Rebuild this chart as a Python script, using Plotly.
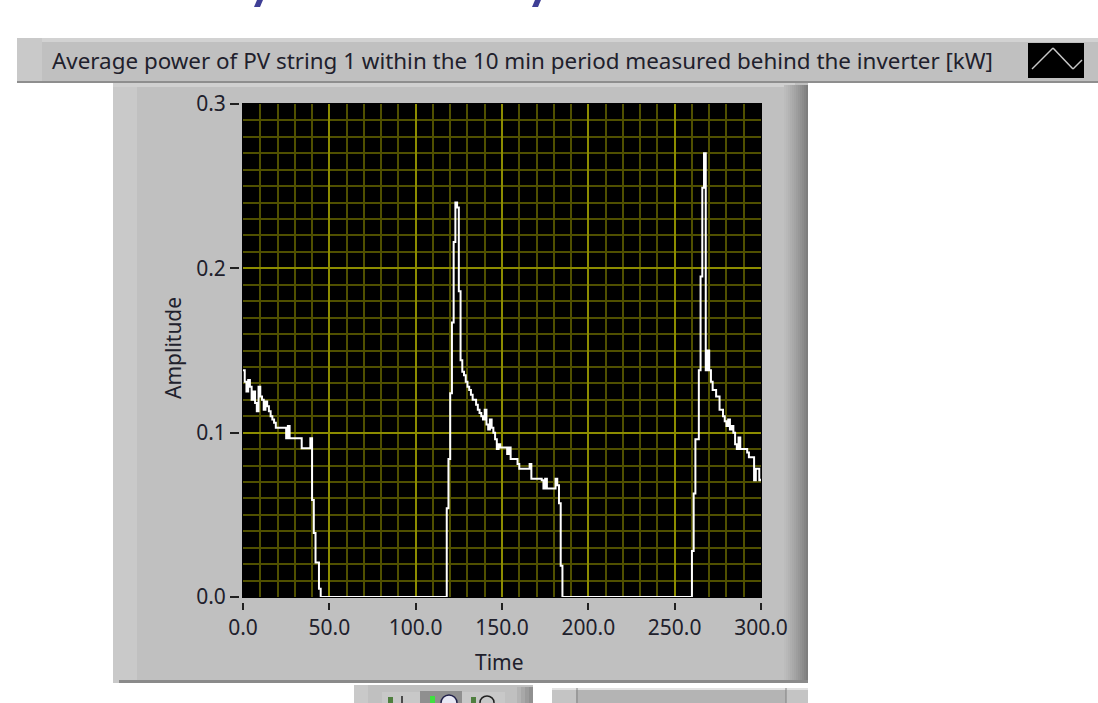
import plotly.graph_objects as go

W, H = 1098, 703
FONT = "Noto Sans"
TEXT = "#20202c"

# ---- data (10-min samples) ----
seg1 = [.138,.131,.125,.132,.128,.120,.125,.118,.113,.128,.122,.120,.114,.119,.116,.113,.110,.108,.106,.103,
        .103,.103,.103,.103,.103,.0966,.104,.0966,.0966,.0966,.0966,.0966,.0966,.0966,.0905,.0905,.0905,.0905,.0905,.0966,
        .059,.039,.021,.021,.005]
zero1 = [0.0] * 73
seg2 = [.054,.084,.124,.167,.216,.240,.237,.186,.144,.137,.135,.131,.128,.126,.123,.120,.120,.117,.114,.112,
        .110,.108,.114,.105,.102,.108,.103,.100,.096,.090,.093,.091,.091,.091,.091,.087,.091,.084,.084,.084,
        .084,.081,.078,.078,.078,.078,.078,.078,.081,.072,.072,.072,.072,.072,.072,.071,.066,.072,.066,.066,
        .066,.066,.066,.072,.068,.057,.019,.006][:67]
zero2 = [0.0] * 75
seg3 = [.028,.063,.096,.096,.138,.195,.249,.270,.138,.150,.138,.131,.126,.126,.122,.122,.114,.114,.110,.107,
        .104,.108,.102,.104,.100,.093,.090,.097,.090,.090,.090,.090,.088,.085,.085,.085,.071,.078,.078,.071,.072]
power = seg1 + zero1 + seg2 + zero2 + seg3
time = list(range(len(power)))

x_ticks = [0, 50, 100, 150, 200, 250, 300]
x_labels = ["0.0", "50.0", "100.0", "150.0", "200.0", "250.0", "300.0"]
y_ticks = [0, 0.1, 0.2, 0.3]
y_labels = ["0.0", "0.1", "0.2", "0.3"]
header = "Average power of PV string 1 within the 10 min period measured behind the inverter [kW]"

def px(x): return x / W
def py(y): return 1 - y / H

shapes = []
def rect(x0, y0, x1, y1, color):
    shapes.append(dict(type="rect", xref="paper", yref="paper", x0=px(x0), x1=px(x1),
                       y0=py(y1), y1=py(y0), fillcolor=color, line=dict(width=0), layer="below"))
def seg(x0, y0, x1, y1, color, width=1.5):
    shapes.append(dict(type="line", xref="paper", yref="paper", x0=px(x0), x1=px(x1),
                       y0=py(y0), y1=py(y1), line=dict(color=color, width=width), layer="below"))
def poly(points, color):
    d = "M " + " L ".join(f"{px(a):.5f},{py(b):.5f}" for a, b in points) + " Z"
    shapes.append(dict(type="path", xref="paper", yref="paper", path=d, fillcolor=color,
                       line=dict(width=0), layer="below"))

# cropped title descenders
poly([(254, 7), (260, 7), (263, 0), (257, 0)], "#3f3f96")
poly([(532, 7), (538, 7), (541, 0), (535, 0)], "#3f3f96")

# header strip
rect(17, 38, W, 83, "#c0c0c0")
rect(17, 38, W, 42, "#d2d2d2")
rect(17, 38, 42, 83, "#c9c9c9")
rect(17, 81, W, 83, "#8e8e8e")
rect(1028, 43, 1084, 78, "#000000")
seg(1032, 69, 1053, 48, "#c8c8c8")
seg(1053, 48, 1073, 69, "#c8c8c8")
seg(1073, 69, 1082, 60, "#c8c8c8")

# main panel with bevels
rect(113, 83, 808, 683, "#c0c0c0")
rect(113, 83, 137, 683, "#c9c9c9")
rect(113, 83, 795, 87, "#d0d0d0")
edge = ["#bcbcbc", "#b8b8b8", "#b3b3b3", "#aeaeae", "#a9a9a9", "#a4a4a4", "#9e9e9e", "#989898",
        "#929292", "#8c8c8c", "#858585", "#7e7e7e"]
for i, c in enumerate(edge):
    rect(784 + 2 * i, 85, 786 + 2 * i, 683, c)
rect(119, 680, 808, 683, "#8a8a8a")
rect(242, 103, 762, 598, "#000000")

# bottom tool palette and scrollbar
rect(354, 685, 533, H, "#c0c0c0")
rect(354, 685, 368, H, "#c9c9c9")
for i, c in enumerate(["#b4b4b4", "#a8a8a8", "#9c9c9c", "#909090"]):
    rect(517 + 4 * i, 687, 521 + 4 * i, H, c)
rect(382, 692, 420, H, "#c8c8c8")
rect(420, 691, 462, H, "#8f8f8f")
rect(462, 692, 505, H, "#c8c8c8")
rect(388, 697, 393, H, "#4f7f3f")
rect(430, 696, 435, H, "#3fe03f")
rect(471, 697, 476, H, "#4f7f3f")
seg(402, 696, 402, H, "#202020", 1.5)
shapes.append(dict(type="circle", xref="paper", yref="paper", x0=px(441), x1=px(457), y0=py(711), y1=py(695),
                   fillcolor="#e8e8f4", line=dict(color="#20204a", width=1.5), layer="below"))
shapes.append(dict(type="circle", xref="paper", yref="paper", x0=px(480), x1=px(494), y0=py(709), y1=py(696),
                   fillcolor="#c8c8c8", line=dict(color="#202020", width=1.5), layer="below"))
rect(552, 688, 808, H, "#b4b4b4")
rect(552, 688, 808, 690, "#e2e2e2")
rect(552, 690, 576, H, "#c4c4c4")
rect(786, 690, 808, H, "#c4c4c4")
seg(577, 688, 577, H, "#808080", 1)
seg(786, 688, 786, H, "#808080", 1)

MAJOR, MINOR = "#8c8c00", "#505000"
tickfont = dict(family=FONT, size=21, color=TEXT)

fig = go.Figure(go.Scatter(x=time, y=power, mode="lines", cliponaxis=False,
                           line=dict(color="#ffffff", width=2, shape="hv"), hoverinfo="skip"))
fig.update_layout(
    width=W, height=H, margin=dict(l=0, r=0, t=0, b=0, autoexpand=False), autosize=False,
    paper_bgcolor="#ffffff", plot_bgcolor="rgba(0,0,0,0)", showlegend=False, shapes=shapes,
    xaxis=dict(domain=[px(243), px(761)], range=[0, 300], anchor="free", position=py(602), automargin=False,
               tickmode="array", tickvals=x_ticks, ticktext=x_labels, ticks="outside", ticklen=7,
               tickwidth=2, tickcolor="#202020", tickfont=tickfont, showline=False, zeroline=False,
               showgrid=True, gridcolor=MAJOR, gridwidth=2,
               minor=dict(dtick=10, tick0=0, showgrid=True, gridcolor=MINOR, gridwidth=1.5, ticks="")),
    yaxis=dict(domain=[py(597), py(104)], range=[0, 0.3], anchor="free", position=px(239), automargin=False,
               tickmode="array", tickvals=y_ticks, ticktext=y_labels, ticks="outside", ticklen=9,
               tickwidth=2, tickcolor="#202020", tickfont=tickfont, showline=False, zeroline=False,
               showgrid=True, gridcolor=MAJOR, gridwidth=2,
               minor=dict(dtick=0.01, tick0=0, showgrid=True, gridcolor=MINOR, gridwidth=1.5, ticks="")),
    annotations=[
        dict(text=header, xref="paper", yref="paper", x=px(50), y=py(60), xanchor="left", yanchor="middle",
             showarrow=False, font=dict(family=FONT, size=22.4, color=TEXT)),
        dict(text="Time", xref="paper", yref="paper", x=px(499), y=py(662), xanchor="center", yanchor="middle",
             showarrow=False, font=dict(family=FONT, size=21, color=TEXT)),
        dict(text="Amplitude", xref="paper", yref="paper", x=px(173), y=py(348), xanchor="center", yanchor="middle",
             textangle=-90, showarrow=False, font=dict(family=FONT, size=21, color=TEXT)),
    ],
)
fig.write_html("out.html", config=dict(displayModeBar=False),
               post_script="document.body.style.margin='0';document.body.style.overflow='hidden';")
